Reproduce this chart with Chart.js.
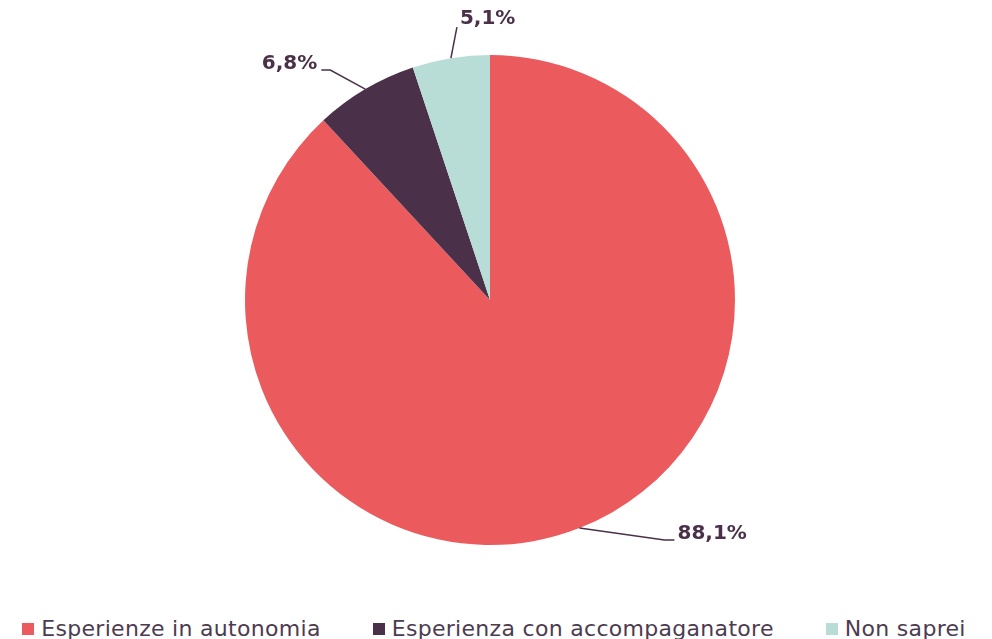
<!DOCTYPE html>
<html>
<head>
<meta charset="utf-8">
<script src="https://cdn.jsdelivr.net/npm/chart.js@4/dist/chart.umd.min.js"></script>
<style>
    html, body { margin: 0; padding: 0; background: #fff; overflow: hidden; }
    #wrap { position: relative; width: 992px; height: 639px; }
    #wrap canvas { position: absolute; left: 0; top: 0; }
    #legend {
        position: absolute; left: 0; top: 616px; width: 988px;
        display: flex; justify-content: center; gap: 52px;
        font-family: 'DejaVu Sans', sans-serif; font-size: 22px; color: #4d3b50;
        letter-spacing: 0.3px; white-space: nowrap;
    }
    #legend .item { display: flex; align-items: center; }
    #legend .box { width: 12px; height: 12px; margin-right: 7px; }
</style>
</head>
<body>
<div id="wrap">
    <canvas id="pieChart" width="992" height="600"></canvas>
    <div id="legend"></div>
</div>
<script>
const categories = ['Esperienze in autonomia', 'Esperienza con accompaganatore', 'Non saprei'];
const percentages = [88.1, 6.8, 5.1];
const valueLabels = ['88,1%', '6,8%', '5,1%'];
const sliceColors = ['#eb5b5e', '#4a3049', '#b8ddd7'];

// callout lines: elbow offset from the arc edge, then a short horizontal run
const callouts = [
    { dx: 85, dy: 12, run: 10, align: 'left' },
    { dx: -35, dy: -19, run: -9, align: 'right' },
    { dx: 6, dy: -31, run: 0, align: 'left' }
];

const calloutPlugin = {
    id: 'callouts',
    afterDatasetsDraw(chart) {
        const ctx = chart.ctx;
        const meta = chart.getDatasetMeta(0);
        ctx.save();
        ctx.strokeStyle = '#4a3049';
        ctx.lineWidth = 1.5;
        ctx.fillStyle = '#4a3049';
        ctx.font = 'bold 20px "DejaVu Sans", sans-serif';
        ctx.textBaseline = 'middle';
        meta.data.forEach((arc, i) => {
            const p = arc.getProps(['x', 'y', 'startAngle', 'endAngle', 'outerRadius'], true);
            const mid = (p.startAngle + p.endAngle) / 2;
            const sx = p.x + Math.cos(mid) * p.outerRadius;
            const sy = p.y + Math.sin(mid) * p.outerRadius;
            const c = callouts[i];
            const ex = sx + c.dx, ey = sy + c.dy;
            const hx = ex + c.run;
            ctx.beginPath();
            ctx.moveTo(sx, sy);
            ctx.lineTo(ex, ey);
            ctx.lineTo(hx, ey);
            ctx.stroke();
            ctx.textAlign = c.align;
            const tx = c.align === 'left' ? hx + 3 : hx - 4;
            const ty = c.run === 0 ? ey - 8 : ey - 6;
            ctx.fillText(valueLabels[i], tx, ty);
        });
        ctx.restore();
    }
};

new Chart(document.getElementById('pieChart'), {
    type: 'pie',
    data: {
        labels: categories,
        datasets: [{
            data: percentages,
            backgroundColor: sliceColors,
            borderWidth: 0
        }]
    },
    options: {
        responsive: false,
        animation: false,
        radius: 245,
        layout: { padding: { left: 0, right: 12, top: 0, bottom: 0 } },
        plugins: {
            legend: { display: false },
            tooltip: { enabled: false }
        }
    },
    plugins: [calloutPlugin]
});

const legend = document.getElementById('legend');
categories.forEach((name, i) => {
    const item = document.createElement('div');
    item.className = 'item';
    item.innerHTML = `<span class="box" style="background:${sliceColors[i]}"></span><span>${name}</span>`;
    legend.appendChild(item);
});
</script>
</body>
</html>
